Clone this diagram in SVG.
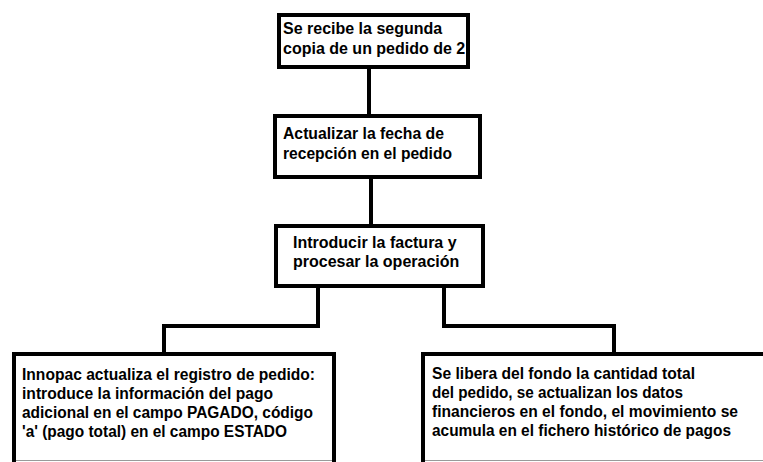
<svg xmlns="http://www.w3.org/2000/svg" width="763" height="462" viewBox="0 0 763 462">
<style>
.box{fill:#fff;stroke:#000;stroke-width:4}
.edge{fill:none;stroke:#000;stroke-width:4}
.cut{stroke:#9a9a9a;stroke-width:1}
text{font-family:"Liberation Sans",Arial,sans-serif;font-weight:bold;font-size:16px;fill:#000}
</style>
<rect width="763" height="462" fill="#fff"/>
<g id="connectors">
<path class="edge" d="M369,69 V114"/>
<path class="edge" d="M371,179 V224"/>
<path class="edge" d="M318,288 V326 H164 V352"/>
<path class="edge" d="M444,288 V326 H614 V352"/>
</g>
<g id="n1">
<rect class="box" x="279" y="15" width="189" height="52"/>
<text x="283" y="34">Se recibe la segunda</text>
<text x="283" y="54">copia de un pedido de 2</text>
</g>
<g id="n2">
<rect class="box" x="275" y="116" width="205" height="61"/>
<text x="283" y="139" textLength="161" lengthAdjust="spacingAndGlyphs">Actualizar la fecha de</text>
<text x="283" y="159" textLength="169" lengthAdjust="spacingAndGlyphs">recepción en el pedido</text>
</g>
<g id="n3">
<rect class="box" x="276" y="226" width="207" height="60"/>
<text x="293" y="248">Introducir la factura y</text>
<text x="293" y="267">procesar la operación</text>
</g>
<g id="n4">
<path class="box" d="M14,462 V354 H334 V462"/>
<line class="cut" x1="16" y1="460.5" x2="332" y2="460.5"/>
<text x="22" y="380" textLength="293" lengthAdjust="spacingAndGlyphs">Innopac actualiza el registro de pedido:</text>
<text x="22" y="399" textLength="251" lengthAdjust="spacingAndGlyphs">introduce la información del pago</text>
<text x="22" y="418" textLength="291" lengthAdjust="spacingAndGlyphs">adicional en el campo PAGADO, código</text>
<text x="22" y="437" textLength="265" lengthAdjust="spacingAndGlyphs">'a' (pago total) en el campo ESTADO</text>
</g>
<g id="n5">
<path class="box" d="M423,462 V354 H766"/>
<line class="cut" x1="425" y1="460.5" x2="763" y2="460.5"/>
<text x="432" y="379" textLength="263" lengthAdjust="spacingAndGlyphs">Se libera del fondo la cantidad total</text>
<text x="432" y="398" textLength="251" lengthAdjust="spacingAndGlyphs">del pedido, se actualizan los datos</text>
<text x="432" y="417" textLength="306" lengthAdjust="spacingAndGlyphs">financieros en el fondo, el movimiento se</text>
<text x="432" y="436" textLength="299" lengthAdjust="spacingAndGlyphs">acumula en el fichero histórico de pagos</text>
</g>
</svg>
